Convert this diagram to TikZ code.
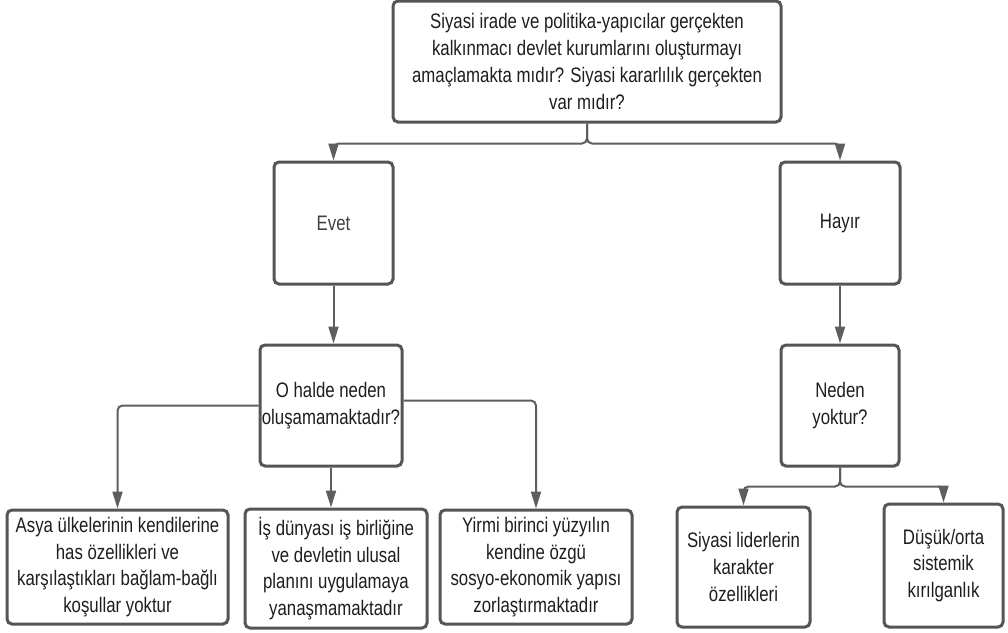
\documentclass[tikz,border=0pt]{standalone}
\usepackage{fontspec}
\setmainfont{Liberation Sans}[FakeStretch=0.8]
\usetikzlibrary{arrows.meta}
\definecolor{linegray}{HTML}{555555}
\definecolor{conngray}{HTML}{5E5E5E}
\definecolor{textc}{HTML}{1E1E1E}
\begin{document}
\begin{tikzpicture}[x=1pt,y=-1pt,
  box/.style={draw=linegray, line width=3pt, rounded corners=5pt, fill=white,
    align=center, inner sep=0pt, font=\fontsize{21}{26.7}\selectfont, text=textc},
  conn/.style={draw=conngray, line width=2pt, rounded corners=5pt,
    -{Triangle[width=10pt,length=17pt]}}]
\useasboundingbox (0,0) rectangle (1008,632);
\fill[white] (0,0) rectangle (1008,632);

\node[box, minimum width=388pt, minimum height=121pt] (top) at (587,61.5)
  {Siyasi irade ve politika-yapıcılar gerçekten\\kalkınmacı devlet kurumlarını oluşturmayı\\amaçlamakta mıdır? Siyasi kararlılık gerçekten\\var mıdır?};
\node[box, minimum width=119pt, minimum height=122pt, text=black!75] (evet) at (333.5,223) {Evet};
\node[box, minimum width=120pt, minimum height=122pt] (hayir) at (840,223) {Hayır};
\node[box, minimum width=142pt, minimum height=121pt] (ohalde) at (331,405.5)
  {O halde neden\\oluşamamaktadır?};
\node[box, minimum width=118pt, minimum height=121pt] (neden) at (840,405.5)
  {Neden\\yoktur?};
\node[box, minimum width=221pt, minimum height=114pt] (a) at (117.5,567)
  {Asya ülkelerinin kendilerine\\has özellikleri ve\\karşılaştıkları bağlam-bağlı\\koşullar yoktur};
\node[box, minimum width=182pt, minimum height=119pt] (b) at (336,568.5)
  {İş dünyası iş birliğine\\ve devletin ulusal\\planını uygulamaya\\yanaşmamaktadır};
\node[box, minimum width=192pt, minimum height=114pt] (c) at (536,567)
  {Yirmi birinci yüzyılın\\kendine özgü\\sosyo-ekonomik yapısı\\zorlaştırmaktadır};
\node[box, minimum width=133pt, minimum height=120pt] (d) at (743.5,567)
  {Siyasi liderlerin\\karakter\\özellikleri};
\node[box, minimum width=119pt, minimum height=123pt] (e) at (943.5,565.5)
  {Düşük/orta\\sistemik\\kırılganlık};

\draw[conn] (top.south) -- ++(0,20) -| (evet.north);
\draw[conn] (top.south) -- ++(0,20) -| (hayir.north);
\draw[conn] (evet.south) -- (evet.south |- ohalde.north);
\draw[conn] (hayir.south) -- (hayir.south |- neden.north);
\draw[conn] (ohalde.west) -| (a.north);
\draw[conn] (ohalde.south) -- (ohalde.south |- b.north);
\draw[conn] ([yshift=5pt]ohalde.east) -| (c.north);
\draw[conn] (neden.south) -- ++(0,19) -| (d.north);
\draw[conn] (neden.south) -- ++(0,19) -| (e.north);
\end{tikzpicture}
\end{document}
